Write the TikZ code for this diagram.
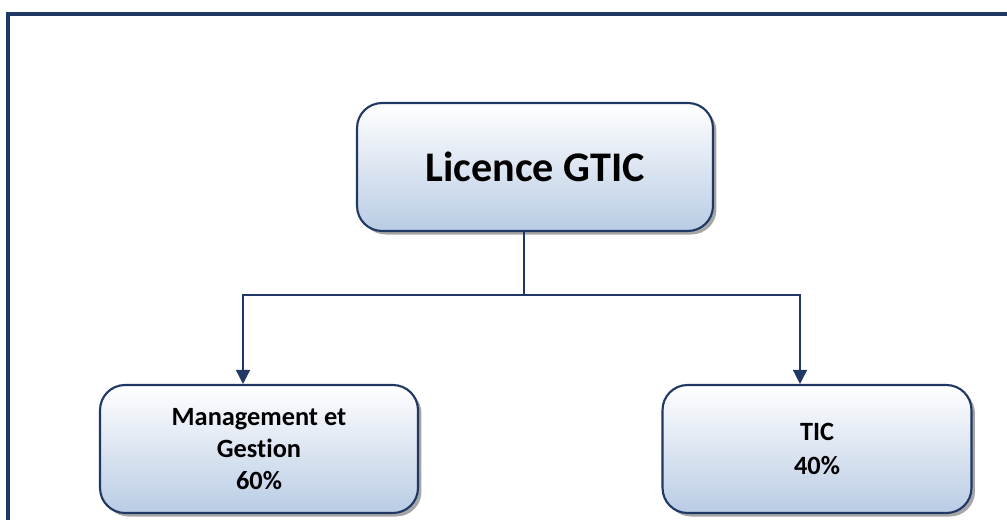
\documentclass[tikz,border=0pt]{standalone}
\usepackage{fontspec}
\setmainfont{Carlito}[Ligatures=NoCommon]
\usetikzlibrary{arrows.meta,shadows}
\definecolor{boxline}{HTML}{1F3864}
\definecolor{boxfill}{HTML}{B9CCE4}
\tikzset{
    box/.style={draw=boxline, line width=1.2pt, rounded corners=0.5cm,
        top color=white, bottom color=boxfill, align=center,
        font=\bfseries, inner sep=0pt,
        drop shadow={shadow xshift=2pt, shadow yshift=-2pt, fill=gray!70, opacity=1}},
    link/.style={draw=boxline, line width=0.8pt},
}
\begin{document}
\begin{tikzpicture}[x=0.02cm, y=-0.02cm]
    \useasboundingbox (0, 0) rectangle (1007, 520);
    % outer frame
    \draw[boxline, line width=1.8pt] (8, 530) -- (8, 14) -- (1020, 14);
    \node[box, minimum width=7.12cm, minimum height=2.56cm, font=\bfseries\fontsize{24}{28}\selectfont]
        (licence) at (535, 167) {Licence GTIC};
    \node[box, minimum width=6.36cm, minimum height=2.56cm, font=\bfseries\fontsize{15}{18.4}\selectfont]
        (mg) at (259, 449) {Management et\\Gestion\\60\%};
    \node[box, minimum width=6.18cm, minimum height=2.56cm, font=\bfseries\fontsize{15}{19.4}\selectfont]
        (tic) at (817, 449) {TIC\\40\%};
    % connectors
    \coordinate (split) at (524, 295);
    \draw[link] (licence.south -| split) -- (split);
    \foreach \t/\x in {mg/243, tic/800}
        \draw[link, -{Triangle[width=8pt, length=8pt]}] (split) -| (\x, 295) -- (\x, 295 |- \t.north);
\end{tikzpicture}
\end{document}
